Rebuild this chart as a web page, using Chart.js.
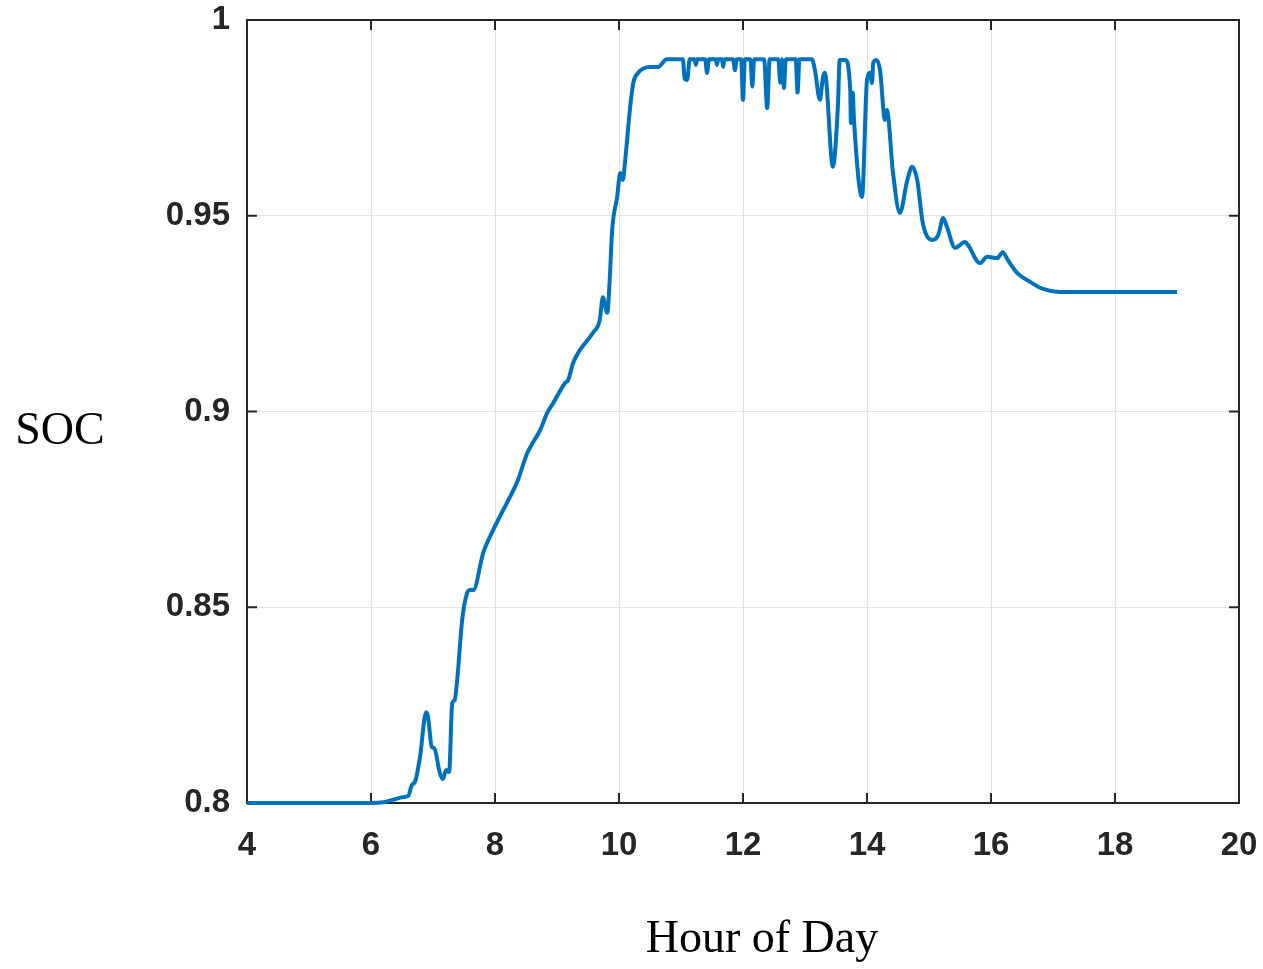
<!DOCTYPE html>
<html>
<head>
<meta charset="utf-8">
<title>SOC vs Hour of Day</title>
<script src="https://cdn.jsdelivr.net/npm/chart.js@4.4.1/dist/chart.umd.min.js"></script>
<style>
  html, body { margin: 0; padding: 0; background: #fff; }
  canvas { display: block; }
</style>
</head>
<body>
<canvas id="soc-chart" width="1263" height="969"></canvas>
<script>
// Hour of day (x) and state of charge (y)
const hours = [
  4.00, 6.00, 6.20, 6.35, 6.52, 6.60, 6.66, 6.71, 6.79, 6.89, 6.92, 6.98, 7.02, 7.11, 7.16, 7.21, 7.26,
  7.31, 7.35, 7.39, 7.47, 7.55, 7.60, 7.65, 7.81, 7.97, 8.19, 8.32, 8.37, 8.52, 8.61, 8.73, 8.84, 8.94,
  9.13, 9.18, 9.26, 9.37, 9.58, 9.69, 9.74, 9.81, 9.85, 9.89, 9.97, 10.02, 10.06, 10.10, 10.18, 10.23,
  10.31, 10.50, 10.63, 10.77,
  11.03, 11.06, 11.10, 11.14, 11.22, 11.24, 11.26, 11.39, 11.42, 11.45, 11.56, 11.58, 11.60, 11.66, 11.68, 11.70,
  11.84, 11.87, 11.90, 11.97, 12.00, 12.03, 12.12, 12.15, 12.18, 12.34, 12.39, 12.43, 12.57, 12.60, 12.63,
  12.66, 12.69, 12.85, 12.88, 12.91, 13.11,
  13.16, 13.24, 13.29, 13.32, 13.45, 13.53, 13.56, 13.65, 13.73, 13.74, 13.77, 13.79, 13.92, 14.00, 14.05,
  14.08, 14.10, 14.15, 14.21, 14.29, 14.32, 14.42, 14.53, 14.65, 14.73, 14.81, 14.90, 15.06, 15.15, 15.23,
  15.29, 15.42, 15.58, 15.63, 15.82, 15.94, 16.10, 16.19, 16.27, 16.42, 16.63, 16.84, 17.11, 19.00
];
const soc = [
  0.8000, 0.8000, 0.8002, 0.8008, 0.8015, 0.8018, 0.8046, 0.8054, 0.8117, 0.8232, 0.8220, 0.8143, 0.8140, 0.8077, 0.8061, 0.8084, 0.8079,
  0.8255, 0.8263, 0.8314, 0.8467, 0.8536, 0.8544, 0.8544, 0.8639, 0.8697, 0.8766, 0.8807, 0.8825, 0.8894, 0.8920, 0.8953, 0.8996, 0.9022,
  0.9073, 0.9080, 0.9124, 0.9157, 0.9201, 0.9234, 0.9292, 0.9252, 0.9336, 0.9464, 0.9548, 0.9609, 0.9591, 0.9642, 0.9778, 0.9839,
  0.9865, 0.9880, 0.9880, 0.9900,
  0.9900, 0.9850, 0.9847, 0.9900, 0.9900, 0.9885, 0.9900, 0.9900, 0.9865, 0.9900, 0.9900, 0.9885, 0.9900, 0.9900, 0.9880, 0.9900,
  0.9900, 0.9872, 0.9900, 0.9900, 0.9796, 0.9900, 0.9900, 0.9830, 0.9900, 0.9900, 0.9775, 0.9900, 0.9900, 0.9840, 0.9900,
  0.9826, 0.9900, 0.9900, 0.9815, 0.9900, 0.9900,
  0.9872, 0.9796, 0.9854, 0.9865, 0.9625, 0.9778, 0.9898, 0.9898, 0.9821, 0.9737, 0.9814, 0.9745, 0.9548, 0.9847, 0.9865,
  0.9839, 0.9890, 0.9898, 0.9872, 0.9745, 0.9770, 0.9609, 0.9507, 0.9591, 0.9625, 0.9591, 0.9481, 0.9438, 0.9451, 0.9494,
  0.9471, 0.9418, 0.9433, 0.9425, 0.9379, 0.9395, 0.9392, 0.9407, 0.9387, 0.9354, 0.9331, 0.9313, 0.9305, 0.9305
];

const xTicks = [4, 6, 8, 10, 12, 14, 16, 18, 20];
const yTicks = [0.8, 0.85, 0.9, 0.95, 1];
const yTickLabels = ['0.8', '0.85', '0.9', '0.95', '1'];

const points = hours.map((h, i) => ({ x: h, y: soc[i] }));

// box round the plot, inward tick marks and the two axis titles
const framePlugin = {
  id: 'frame',
  beforeDatasetsDraw(chart) {
    const { ctx, chartArea: a, scales: { x, y } } = chart;
    const tick = 10;
    ctx.save();
    ctx.strokeStyle = '#262626';
    ctx.lineWidth = 2;
    ctx.beginPath();
    xTicks.forEach(v => {
      const px = x.getPixelForValue(v);
      ctx.moveTo(px, a.bottom); ctx.lineTo(px, a.bottom - tick);
      ctx.moveTo(px, a.top); ctx.lineTo(px, a.top + tick);
    });
    yTicks.forEach(v => {
      const py = y.getPixelForValue(v);
      ctx.moveTo(a.left, py); ctx.lineTo(a.left + tick, py);
      ctx.moveTo(a.right, py); ctx.lineTo(a.right - tick, py);
    });
    ctx.stroke();
    ctx.strokeRect(a.left, a.top, a.right - a.left, a.bottom - a.top);
    ctx.restore();
  },
  afterDraw(chart) {
    const ctx = chart.ctx;
    ctx.save();
    ctx.fillStyle = '#000';
    ctx.font = '46px "Liberation Serif", serif';
    ctx.textAlign = 'center';
    ctx.textBaseline = 'middle';
    ctx.fillText('SOC', 60, 432);
    ctx.fillText('Hour of Day', 762, 940);
    ctx.restore();
  }
};

const tickFont = { family: '"Liberation Sans", Arial, sans-serif', size: 33, weight: 'bold' };

new Chart(document.getElementById('soc-chart'), {
  type: 'line',
  data: {
    datasets: [{
      data: points,
      borderColor: '#0072BD',
      borderWidth: 4,
      pointRadius: 0,
      fill: false,
      cubicInterpolationMode: 'monotone',
      clip: 6
    }]
  },
  options: {
    responsive: false,
    animation: false,
    layout: { padding: 0 },
    plugins: {
      legend: { display: false },
      tooltip: { enabled: false }
    },
    scales: {
      x: {
        type: 'linear',
        min: 4,
        max: 20,
        afterFit: s => { s.height = 166; s.paddingLeft = 0; s.paddingRight = 24; },
        afterBuildTicks: s => { s.ticks = xTicks.map(v => ({ value: v })); },
        border: { display: false },
        grid: { color: '#e2e2e2', lineWidth: 1, drawTicks: false },
        ticks: { font: tickFont, color: '#262626', padding: 23, maxRotation: 0 }
      },
      y: {
        min: 0.8,
        max: 1,
        afterFit: s => { s.width = 247; s.paddingTop = 20; s.paddingBottom = 0; },
        afterBuildTicks: s => { s.ticks = yTicks.map(v => ({ value: v })); },
        border: { display: false },
        grid: { color: '#e2e2e2', lineWidth: 1, drawTicks: false },
        ticks: {
          font: tickFont, color: '#262626', padding: 17,
          callback: (v, i) => yTickLabels[i]
        }
      }
    }
  },
  plugins: [framePlugin]
});
</script>
</body>
</html>
